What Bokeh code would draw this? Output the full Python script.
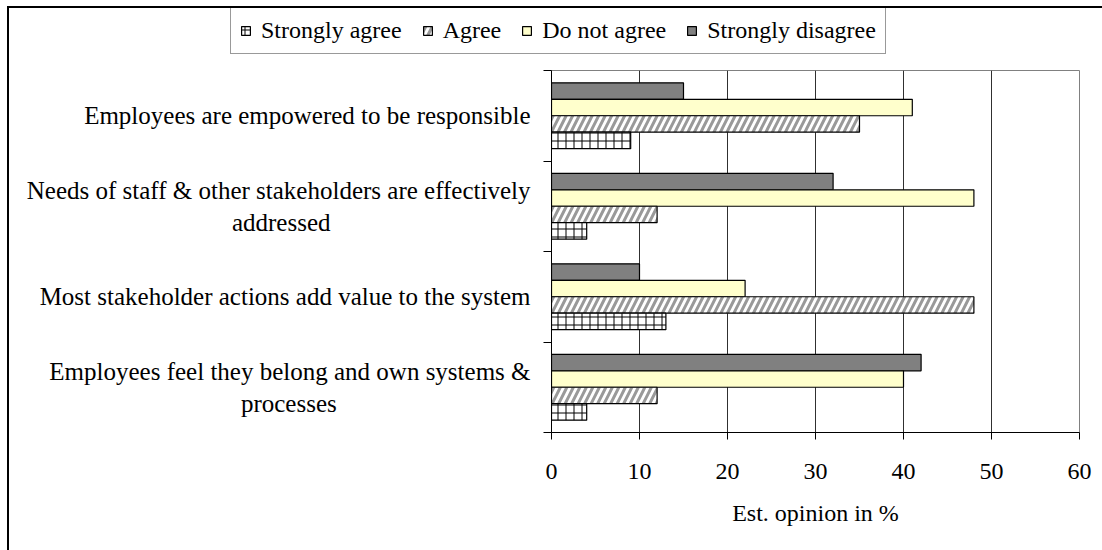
from bokeh.plotting import figure
from bokeh.layouts import column
from bokeh.models import Range1d, FixedTicker, Legend, LegendItem, ColumnDataSource
from bokeh.transform import dodge
from bokeh.embed import file_html
from bokeh.resources import INLINE

# Survey statements, listed top to bottom as they appear on the chart
categories = [
    "Employees are empowered to be responsible",
    "Needs of staff & other stakeholders are effectively\naddressed",
    "Most stakeholder actions add value to the system",
    "Employees feel they belong and own systems &\nprocesses",
]

# Estimated opinion shares in %
strongly_agree = [9, 4, 13, 4]
agree = [35, 12, 48, 12]
do_not_agree = [41, 48, 22, 40]
strongly_disagree = [15, 32, 10, 42]

series_names = ["Strongly agree", "Agree", "Do not agree", "Strongly disagree"]

x_ticks = [0, 10, 20, 30, 40, 50, 60]

FONT = "Liberation Serif"
FS = "24px"
FS_CAT = "25px"

# approximate Times advance widths (per 1000 em), used to centre wrapped lines
_ADV = {" ": 250, "&": 778, "E": 611, "M": 889, "N": 722, "a": 444, "b": 500,
        "c": 444, "d": 500, "e": 444, "f": 333, "g": 500, "h": 500, "i": 278,
        "k": 500, "l": 278, "m": 778, "n": 500, "o": 500, "p": 500, "r": 333,
        "s": 389, "t": 278, "u": 500, "v": 500, "w": 722, "y": 500}


def centre_wrapped(label):
    """Right-aligned axis labels: pad continuation lines so they sit centred
    under the first line."""
    lines = label.split("\n")
    width = [sum(_ADV.get(ch, 500) for ch in ln) for ln in lines]
    out = [lines[0]]
    for ln, w in zip(lines[1:], width[1:]):
        pad = max(0, round((width[0] - w) / 2 / _ADV[" "]))
        out.append(ln + "\u00a0" * pad)
    return "\n".join(out)


# fill styles per series
styles = {
    "Strongly agree": dict(fill_color="white", hatch_pattern="+", hatch_color="black",
                           hatch_scale=8, hatch_weight=1),
    "Agree": dict(fill_color="white", hatch_pattern="/", hatch_color="#999999",
                  hatch_scale=13, hatch_weight=3),
    "Do not agree": dict(fill_color="#FFFFCC"),
    "Strongly disagree": dict(fill_color="#808080"),
}

n = len(categories)
pos = [n - 1 - i for i in range(n)]  # first statement at the top

src = ColumnDataSource(dict(
    cat=categories, pos=pos,
    sa=strongly_agree, ag=agree, dna=do_not_agree, sd=strongly_disagree,
))

# ---- main chart ----
p = figure(width=1093, height=486, output_backend="svg", toolbar_location=None,
           x_range=Range1d(0, 60), y_range=Range1d(-0.5, n - 0.5),
           min_border_left=542, min_border_right=23,
           min_border_top=6, min_border_bottom=118)
p.frame_align = False
p.background_fill_color = "white"
p.border_fill_color = "white"
p.outline_line_color = "#808080"
p.outline_line_width = 1

# four bars per band with an Excel-like gap
bar_h = 1.0 / 5.5
offsets = [1.5 * bar_h, 0.5 * bar_h, -0.5 * bar_h, -1.5 * bar_h]
common = dict(source=src, height=bar_h, left=0, line_color="black", line_width=1.2)

p.hbar(y=dodge("pos", offsets[0], range=p.y_range), right="sd",
       **styles["Strongly disagree"], **common)
p.hbar(y=dodge("pos", offsets[1], range=p.y_range), right="dna",
       **styles["Do not agree"], **common)
p.hbar(y=dodge("pos", offsets[2], range=p.y_range), right="ag",
       **styles["Agree"], **common)
p.hbar(y=dodge("pos", offsets[3], range=p.y_range), right="sa",
       **styles["Strongly agree"], **common)

# x axis
p.xaxis.ticker = FixedTicker(ticks=x_ticks)
p.xaxis.axis_label = "Est. opinion in %"
p.xaxis.axis_label_text_font = FONT
p.xaxis.axis_label_text_font_size = FS
p.xaxis.axis_label_text_font_style = "normal"
p.xaxis.axis_label_text_color = "black"
p.xaxis.axis_label_standoff = 18
p.xaxis.major_label_text_font = FONT
p.xaxis.major_label_text_font_size = FS
p.xaxis.major_label_text_color = "black"
p.xaxis.major_label_standoff = 24
p.xaxis.major_tick_out = 7
p.xaxis.major_tick_in = 0
p.xaxis.minor_tick_line_color = None
p.xaxis.axis_line_color = "black"
p.xaxis.major_tick_line_color = "black"

# y axis: statements at band centres, tick marks at band boundaries
p.yaxis.ticker = FixedTicker(ticks=pos, minor_ticks=[k - 0.5 for k in range(n + 1)])
p.yaxis.major_label_overrides = {pp: centre_wrapped(c) for pp, c in zip(pos, categories)}
p.yaxis.major_label_text_font = FONT
p.yaxis.major_label_text_font_size = FS_CAT
p.yaxis.major_label_text_color = "black"
p.yaxis.major_label_standoff = 13
p.yaxis.major_tick_line_color = None
p.yaxis.major_tick_out = 0
p.yaxis.major_tick_in = 0
p.yaxis.minor_tick_out = 8
p.yaxis.minor_tick_in = 0
p.yaxis.minor_tick_line_color = "black"
p.yaxis.axis_line_color = "black"

p.ygrid.visible = False
p.xgrid.grid_line_color = "#303030"
p.xgrid.grid_line_width = 1

# ---- legend strip above the chart ----
lg = figure(width=1093, height=56, output_backend="svg", toolbar_location=None,
            x_range=Range1d(0, 1), y_range=Range1d(0, 1),
            min_border_left=0, min_border_right=0, min_border_top=0, min_border_bottom=0)
lg.frame_align = False
lg.axis.visible = False
lg.grid.visible = False
lg.outline_line_color = None
lg.background_fill_color = "white"
lg.border_fill_color = "white"

# key swatches: one placeholder bar per series, kept below the strip's visible range
items = []
for name in series_names:
    r = lg.hbar(y=[-5], right=[0], left=0, height=0.1, line_color="black",
                line_width=1.2, **styles[name])
    items.append(LegendItem(label=name, renderers=[r]))

legend = Legend(items=items, orientation="horizontal", location=(221, 10))
legend.label_text_font = FONT
legend.label_text_font_size = FS
legend.label_text_color = "black"
legend.glyph_width = 11
legend.glyph_height = 11
legend.label_standoff = 10
legend.spacing = 20
legend.padding = 9
legend.margin = 0
legend.border_line_color = "#333333"
legend.border_line_width = 1
legend.background_fill_color = "white"
legend.background_fill_alpha = 1
lg.add_layout(legend)

# chart area frame: black edge along the top and left
page = column(lg, p, spacing=0,
              styles={"margin-left": "7px", "margin-top": "6px",
                      "border-left": "2px solid black",
                      "border-top": "2px solid black"})

open("out.html", "w").write(file_html(page, INLINE))
